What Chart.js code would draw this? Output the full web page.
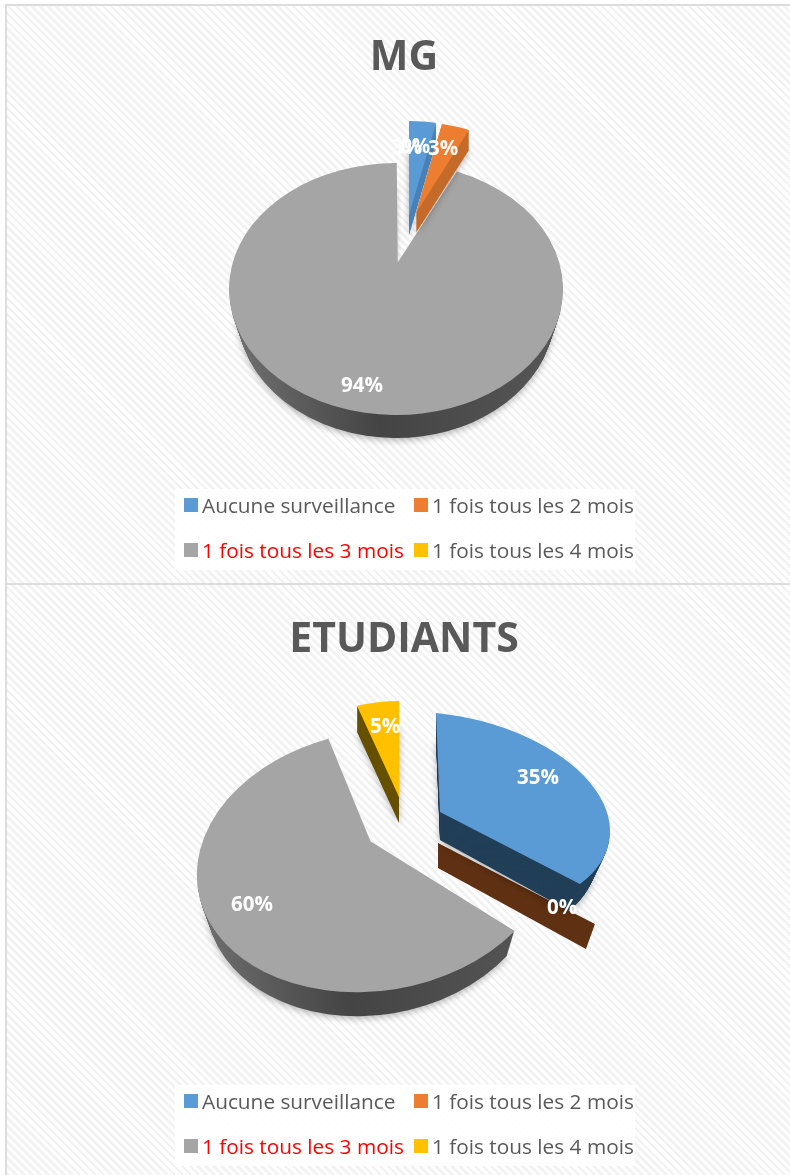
<!DOCTYPE html>
<html>
<head>
<meta charset="utf-8">
<script src="https://cdn.jsdelivr.net/npm/chart.js@4"></script>
<style>
html, body { margin: 0; padding: 0; background: #fff; }
#page { position: relative; width: 790px; height: 1175px; overflow: hidden; }
.panel { position: absolute; left: 5px; width: 785px; box-sizing: border-box;
  border-left: 2px solid #dcdcdc; border-top: 2px solid #dcdcdc;
  background: repeating-linear-gradient(45deg, #f2f2f2 0 2.6px, #fff 2.6px 5.6px); }
canvas { position: absolute; left: 0; }
.legend { position: absolute; left: 175px; width: 460px; height: 81px; background: rgba(255,255,255,.88); }
.item { position: absolute; font: 20.8px "Open Sans", sans-serif; color: #595959; white-space: nowrap; line-height: 26px; }
.item i { position: absolute; left: -18px; top: 6px; width: 14px; height: 14px; }
</style>
</head>
<body>
<div id="page">
  <div class="panel" style="top:4px;height:581px"></div>
  <div class="panel" style="top:583px;height:592px"></div>
  <canvas id="mg" width="790" height="585" style="top:0"></canvas>
  <canvas id="etu" width="790" height="590" style="top:585px"></canvas>
</div>
<script>
const categories = ['Aucune surveillance', '1 fois tous les 2 mois', '1 fois tous les 3 mois', '1 fois tous les 4 mois'];
const mgValues = [3, 3, 94, 0];
const etudiantValues = [35, 0, 60, 5];
const colors = ['#5b9bd5', '#ed7d31', '#a5a5a5', '#ffc000'];
const legendTextColors = ['#595959', '#595959', '#ff0000', '#595959'];

// how each slice is laid down on the page: at = slice centre, m = 2x2 matrix of the tilted circle
const mgShapes = [
  { at: [409, 215], m: [144, 2, 0, 94], depth: 20, side: '#4a80b8' },
  { at: [416, 213], m: [149, 7, 2, 92], depth: 20, side: '#c46b2a' },
  { at: [396, 289], m: [167, 0, 0, 126], depth: 23, side: 'gray', taper: 0.05, tip: [397, 265] },
  null
];
const mgLabels = [[407, 148], [443, 149], [362, 386], [415, 147]];
const etuShapes = [
  { at: [440, 812], m: [170, 17, 4, 99], depth: 28, side: '#223f58', taper: 0.08 },
  { at: [438, 843], m: [194, 0, 0, 138], depth: 25, side: '#5f3011' },
  { at: [375, 861], m: [178, -8, -8, 131], depth: 24, side: 'gray', taper: 0.05, tip: [370, 842] },
  { at: [399, 797], m: [136, 0, 0, 96], depth: 26, side: '#665000' }
];
const etuLabels = [[538, 778], [562, 908], [252, 905], [385, 727]];

function place(ctx, el, s, taper) {
  const r = el.outerRadius;
  ctx.translate(s.at[0], s.at[1]);
  ctx.transform(s.m[0] * taper / r, s.m[1] * taper / r, s.m[2] / r, s.m[3] / r, 0, 0);
  ctx.translate(-el.x, -el.y);
}

function edge(s, angle) {
  const ux = Math.cos(angle), uy = Math.sin(angle);
  return [s.at[0] + s.m[0] * ux + s.m[2] * uy, s.at[1] + s.m[1] * ux + s.m[3] * uy];
}

function flat(color) {
  return { backgroundColor: color, borderColor: color, borderWidth: 0, borderAlign: 'center', borderJoinStyle: 'round', borderRadius: 0, offset: 0, spacing: 0, circular: true };
}

const tilted = {
  id: 'tilted',
  beforeDatasetsDraw(chart, args, opts) {
    const ctx = chart.ctx;
    const arcs = chart.getDatasetMeta(0).data;
    ctx.save();
    ctx.translate(0, -opts.top);
    opts.order.forEach(i => {
      const el = arcs[i], s = opts.shapes[i];
      if (!s) return;
      const top = el.options.backgroundColor;
      if (el.circumference === 0) {
        // a 0 % slice still shows its cut wall
        const p = edge(s, el.startAngle);
        ctx.fillStyle = s.side;
        ctx.beginPath();
        ctx.moveTo(s.at[0], s.at[1]);
        ctx.lineTo(p[0], p[1]);
        ctx.lineTo(p[0] - 9, p[1] + s.depth);
        ctx.lineTo(s.at[0], s.at[1] + s.depth);
        ctx.closePath();
        ctx.fill();
        return;
      }
      const own = el.options;
      for (let d = s.depth; d >= 1; d--) {
        ctx.save();
        if (d === s.depth) {
          ctx.shadowColor = 'rgba(0,0,0,.3)';
          ctx.shadowBlur = 7;
          ctx.shadowOffsetY = 2;
        }
        ctx.translate(0, d);
        place(ctx, el, s, 1 - (s.taper || 0) * d / s.depth);
        let fill = s.side;
        if (s.side === 'gray') {
          fill = ctx.createLinearGradient(el.x - el.outerRadius, 0, el.x + el.outerRadius, 0);
          fill.addColorStop(0, '#707070');
          fill.addColorStop(0.45, '#444444');
          fill.addColorStop(1, '#565656');
        }
        el.options = flat(fill);
        el.draw(ctx);
        el.options = own;
        ctx.restore();
      }
      ctx.save();
      place(ctx, el, s, 1);
      el.draw(ctx);
      ctx.restore();
      if (s.tip) {
        // the wedge tip sits above the middle of the tilted disc
        const a = edge(s, el.startAngle), b = edge(s, el.endAngle);
        ctx.fillStyle = top;
        ctx.strokeStyle = top;
        ctx.lineWidth = 1.5;
        ctx.beginPath();
        ctx.moveTo(s.tip[0], s.tip[1]);
        ctx.lineTo(a[0], a[1]);
        ctx.lineTo(s.at[0], s.at[1]);
        ctx.lineTo(b[0], b[1]);
        ctx.closePath();
        ctx.fill();
        ctx.stroke();
      }
    });
    ctx.fillStyle = '#fff';
    ctx.font = 'bold 20.5px "Open Sans", sans-serif';
    ctx.textAlign = 'center';
    ctx.textBaseline = 'middle';
    opts.values.forEach((v, i) => {
      ctx.fillText(v + '%', opts.labels[i][0], opts.labels[i][1]);
    });
    ctx.restore();
    return false;
  }
};

function pie(id, title, values, shapes, labels, order, top, titlePad) {
  new Chart(document.getElementById(id), {
    type: 'pie',
    data: { labels: categories, datasets: [{ data: values, backgroundColor: colors, borderWidth: 0, hoverOffset: 0 }] },
    options: {
      responsive: false,
      animation: false,
      events: [],
      layout: { padding: { left: 18 } },
      plugins: {
        legend: { display: false },
        tooltip: { enabled: false },
        title: { display: true, text: title, color: '#595959', font: { family: '"Open Sans", sans-serif', size: 41, weight: 'bold' }, padding: { top: titlePad, bottom: 0 } },
        tilted: { shapes, labels, order, values, top }
      }
    },
    plugins: [tilted]
  });
}

function legend(top) {
  const box = document.createElement('div');
  box.className = 'legend';
  box.style.top = top + 'px';
  const cols = [27, 257];
  const rows = [3, 48];
  categories.forEach((c, i) => {
    const it = document.createElement('div');
    it.className = 'item';
    it.style.left = cols[i % 2] + 'px';
    it.style.top = rows[i >> 1] + 'px';
    it.style.color = legendTextColors[i];
    const sw = document.createElement('i');
    sw.style.background = colors[i];
    it.appendChild(sw);
    it.appendChild(document.createTextNode(c));
    box.appendChild(it);
  });
  document.getElementById('page').appendChild(box);
}

pie('mg', 'MG', mgValues, mgShapes, mgLabels, [2, 0, 1], 0, 34);
pie('etu', 'ETUDIANTS', etudiantValues, etuShapes, etuLabels, [2, 3, 1, 0], 585, 31);
legend(489);
legend(1085);
</script>
</body>
</html>
